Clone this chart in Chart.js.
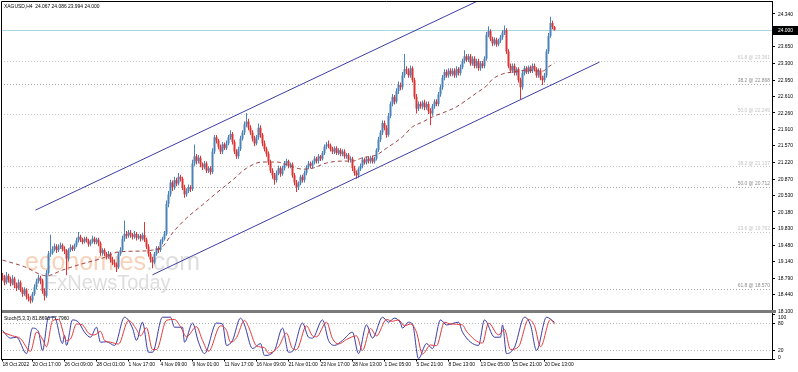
<!DOCTYPE html>
<html>
<head>
<meta charset="utf-8">
<script src="https://cdn.jsdelivr.net/npm/chart.js@4.4.0/dist/chart.umd.min.js"></script>
<style>
	html, body { margin: 0; padding: 0; background: #fff; }
	#wrap { position: relative; width: 798px; height: 372px; }
</style>
</head>
<body>
<div id="wrap"><canvas id="chart" width="798" height="372"></canvas></div>
<script>
// XAGUSD H4 candles (open = previous close)
const firstOpen = 18.84;
const closes = [
	18.80,18.70,18.84,18.76,18.68,18.78,18.64,18.58,18.70,18.56,
	18.46,18.54,18.40,18.36,18.32,18.46,18.60,18.72,18.80,18.74,
	18.52,18.42,18.90,19.30,19.32,19.40,19.46,19.38,19.44,19.48,
	19.40,19.36,19.20,19.38,19.44,19.40,19.48,19.58,19.66,19.60,
	19.55,19.62,19.58,19.50,19.56,19.62,19.55,19.60,19.52,19.32,
	19.38,19.30,19.24,19.30,19.18,19.12,19.08,19.02,19.30,19.38,
	19.62,19.72,19.68,19.75,19.70,19.66,19.72,19.64,19.68,19.62,
	19.70,19.60,19.45,19.30,19.18,19.12,19.30,19.42,19.38,19.55,
	19.62,19.72,20.35,20.55,20.80,20.70,20.85,20.78,20.92,20.88,
	20.70,20.55,20.62,20.70,20.66,21.20,21.35,21.25,21.32,21.18,
	21.12,21.20,21.05,21.10,21.02,21.45,21.75,21.68,21.55,21.45,
	21.60,21.52,21.62,21.75,21.82,21.65,21.45,21.35,21.50,21.72,
	21.85,22.02,22.08,21.95,21.85,21.72,21.62,21.75,21.95,21.80,
	21.62,21.50,21.40,21.22,21.05,20.95,20.85,21.00,21.10,20.98,
	21.10,21.20,21.25,21.15,21.18,20.95,20.80,20.70,20.78,20.92,
	20.85,21.00,21.12,21.20,21.15,21.22,21.30,21.25,21.35,21.30,
	21.42,21.55,21.60,21.58,21.50,21.45,21.52,21.42,21.48,21.40,
	21.45,21.35,21.38,21.28,21.30,21.10,21.00,20.95,21.08,21.15,
	21.28,21.22,21.30,21.25,21.32,21.24,21.30,21.48,21.70,21.85,
	22.05,21.95,21.80,22.20,22.45,22.60,22.50,22.72,22.85,22.80,
	23.05,23.18,23.15,23.05,23.20,22.95,22.60,22.35,22.45,22.40,
	22.48,22.38,22.45,22.30,22.25,22.40,22.50,22.45,22.65,22.80,
	23.00,23.12,23.05,23.15,23.08,23.15,23.05,23.18,23.10,23.22,
	23.35,23.45,23.38,23.45,23.30,23.40,23.25,23.35,23.20,23.30,
	23.25,23.40,23.90,23.98,23.82,23.72,23.80,23.70,23.78,23.85,
	23.95,24.00,23.55,23.25,23.15,23.25,23.10,23.18,22.95,22.80,
	23.10,23.20,23.12,23.22,23.15,23.25,23.18,23.05,23.15,23.00,
	22.95,23.05,23.55,23.88,24.15,24.067,24.00
];
const highs = [
	18.90,18.86,18.92,18.88,18.82,18.85,18.82,18.70,18.76,18.74,
	18.60,18.60,18.58,18.46,18.42,18.50,18.66,18.78,18.86,18.84,
	18.78,18.58,18.96,19.36,19.70,19.46,19.52,19.50,19.50,19.54,
	19.52,19.46,19.40,19.42,19.50,19.48,19.52,19.64,19.76,19.70,
	19.64,19.66,19.66,19.62,19.60,19.68,19.66,19.64,19.64,19.56,
	19.42,19.42,19.34,19.36,19.34,19.24,19.18,19.12,19.34,19.44,
	19.68,20.00,19.78,19.80,19.80,19.74,19.78,19.76,19.72,19.72,
	19.74,19.97,19.64,19.50,19.34,19.24,19.34,19.46,19.46,19.60,
	19.66,19.78,20.42,20.62,20.86,20.84,20.92,20.90,21.00,20.96,
	20.92,20.75,20.68,20.76,20.74,21.28,21.60,21.40,21.38,21.36,
	21.22,21.25,21.24,21.14,21.14,21.52,21.80,21.80,21.72,21.60,
	21.65,21.64,21.68,21.80,21.90,21.86,21.70,21.50,21.55,21.78,
	21.90,22.08,22.26,22.14,22.00,21.90,21.78,21.80,22.04,22.00,
	21.84,21.68,21.55,21.45,21.28,21.10,21.00,21.05,21.15,21.14,
	21.15,21.25,21.30,21.28,21.22,21.22,21.00,20.85,20.82,20.96,
	20.96,21.05,21.16,21.25,21.24,21.26,21.35,21.34,21.40,21.38,
	21.46,21.60,21.65,21.68,21.62,21.55,21.56,21.56,21.52,21.52,
	21.50,21.50,21.42,21.42,21.35,21.34,21.15,21.05,21.12,21.20,
	21.33,21.32,21.34,21.34,21.36,21.36,21.34,21.52,21.76,21.90,
	22.10,22.10,22.00,22.26,22.50,22.66,22.64,22.78,22.92,22.90,
	23.12,23.50,23.24,23.20,23.26,23.24,23.00,22.66,22.50,22.50,
	22.52,22.54,22.50,22.50,22.36,22.45,22.55,22.55,22.70,22.86,
	23.06,23.18,23.17,23.20,23.20,23.20,23.20,23.24,23.22,23.28,
	23.40,23.58,23.50,23.50,23.50,23.45,23.45,23.40,23.40,23.35,
	23.35,23.45,23.96,24.08,24.02,23.86,23.85,23.84,23.82,23.90,
	24.00,24.10,24.04,23.60,23.30,23.30,23.30,23.22,23.22,23.00,
	23.15,23.25,23.24,23.26,23.26,23.30,23.30,23.22,23.20,23.20,
	23.04,23.10,23.60,23.94,24.28,24.20,24.086
];
const lows = [
	18.74,18.64,18.66,18.70,18.62,18.64,18.58,18.52,18.54,18.50,
	18.40,18.42,18.34,18.30,18.26,18.28,18.42,18.55,18.68,18.66,
	18.46,18.32,18.38,18.86,19.24,19.28,19.35,19.32,19.34,19.40,
	19.35,19.30,18.85,19.14,19.34,19.36,19.36,19.44,19.54,19.55,
	19.50,19.52,19.54,19.45,19.46,19.52,19.50,19.50,19.46,19.26,
	19.26,19.25,19.18,19.20,19.12,19.06,19.02,18.92,18.98,19.26,
	19.34,19.56,19.62,19.64,19.64,19.60,19.62,19.58,19.60,19.56,
	19.58,19.55,19.40,19.24,19.12,19.00,19.08,19.26,19.32,19.34,
	19.50,19.58,19.68,20.28,20.50,20.62,20.65,20.72,20.74,20.82,
	20.64,20.48,20.50,20.58,20.60,20.62,21.14,21.18,21.20,21.12,
	21.06,21.08,21.00,21.00,20.96,20.98,21.40,21.62,21.50,21.40,
	21.40,21.48,21.48,21.58,21.70,21.60,21.40,21.30,21.30,21.46,
	21.68,21.80,21.96,21.90,21.80,21.66,21.56,21.58,21.70,21.74,
	21.56,21.45,21.34,21.16,21.00,20.88,20.75,20.80,20.95,20.92,
	20.94,21.05,21.15,21.10,21.10,20.90,20.74,20.60,20.64,20.74,
	20.80,20.80,20.95,21.08,21.10,21.10,21.18,21.20,21.20,21.25,
	21.26,21.38,21.50,21.52,21.45,21.40,21.40,21.38,21.38,21.35,
	21.35,21.30,21.30,21.22,21.22,21.04,20.94,20.88,20.90,21.04,
	21.10,21.18,21.18,21.20,21.20,21.20,21.20,21.26,21.44,21.65,
	21.80,21.90,21.74,21.76,22.15,22.40,22.44,22.46,22.66,22.74,
	22.75,23.00,23.08,23.00,23.00,22.90,22.55,22.25,22.30,22.35,
	22.34,22.32,22.33,22.24,22.00,22.20,22.35,22.40,22.40,22.60,
	22.75,22.95,23.00,23.00,23.03,23.03,23.00,23.00,23.05,23.05,
	23.18,23.30,23.33,23.33,23.25,23.25,23.20,23.20,23.15,23.15,
	23.20,23.20,23.36,23.85,23.77,23.66,23.68,23.65,23.66,23.73,
	23.80,23.90,23.50,23.20,23.10,23.10,23.05,23.05,22.90,22.55,
	22.75,23.05,23.08,23.08,23.10,23.10,23.13,23.00,23.00,22.95,
	22.85,22.90,23.00,23.50,23.84,24.02,23.994
];

// dashed moving average, sampled along its path
const maBars = [0,11,22,30,38,50,58,70,75,80,85,92,100,107,115,122,130,137,145,150,155,162,170,175,180,187,192,200,205,210,215,220,227,232,237,242,245,250,255,262,270,273,276];
const maValues = [19.17,19.03,18.84,18.96,19.07,19.21,19.34,19.36,19.38,19.45,19.74,20.05,20.33,20.58,20.85,21.10,21.23,21.23,21.13,21.08,21.10,21.21,21.25,21.25,21.32,21.38,21.52,21.76,21.97,22.07,22.18,22.26,22.39,22.53,22.68,22.83,22.97,23.08,23.12,23.16,23.14,23.23,23.31];

// Stochastic(5,3,3) turning points
const kBars = [0,4,7,12,15,18,20,23,26,30,31,32,35,38,41,44,47,49,52,56,61,65,67,70,73,75,80,84,86,90,91,95,98,101,107,110,112,115,119,121,125,129,131,136,140,143,145,150,153,155,160,163,166,170,175,178,182,185,190,193,196,199,200,203,205,208,212,215,219,222,228,230,238,241,246,249,250,252,256,261,264,267,272,276];
const kValues = [64,47,49,13,69,61,20,93,93,35,53,31,87,82,60,49,71,38,39,31,93,69,42,82,16,16,93,93,71,71,38,80,38,13,80,78,31,42,91,76,24,35,9,20,69,16,18,80,49,47,87,42,31,42,60,13,76,47,93,82,91,80,69,82,78,2,35,24,87,76,82,60,31,87,49,49,76,13,27,93,76,20,93,81.87];
const dBars = [0,5,9,14,17,20,22,25,28,32,34,37,40,43,46,49,51,54,58,63,67,69,72,75,77,82,86,89,92,97,100,103,109,112,114,117,121,123,127,131,133,138,142,145,147,152,155,157,162,165,168,172,177,180,184,187,192,195,198,201,204,207,210,214,217,221,224,230,232,240,243,248,251,254,258,263,266,269,274,276];
const dValues = [60,52,46,18,60,45,28,85,88,42,45,78,76,58,54,62,42,38,34,86,66,52,70,22,22,86,88,72,50,72,42,18,74,64,38,48,86,72,30,26,14,28,58,24,22,74,52,50,82,46,34,44,52,20,68,52,88,84,87,74,78,60,12,32,30,82,78,76,62,36,80,54,66,22,28,88,74,28,88,77.8];

// channel lines: [bar, price] end points
const upperChannel = [[16.5, 20.22], [249.5, 24.85]];
const lowerChannel = [[75, 18.86], [298.5, 23.33]];

// fibonacci levels
const fibLevels = [23.361, 22.868, 22.249, 21.137, 20.712, 19.763, 18.570];
const fibLabels = ['61.8 @ 23.361', '38.2 @ 22.868', '50.0 @ 22.249', '38.2 @ 21.137', '50.0 @ 20.712', '23.6 @ 19.763', '61.8 @ 18.570'];
const fibStrong = [false, true, false, false, true, false, true];

const bidPrice = 24.000;
const priceTicks = [24.34,24.00,23.65,23.30,22.95,22.61,22.26,21.91,21.57,21.22,20.87,20.53,20.18,19.83,19.48,19.14,18.79,18.44,18.10];
const stochTicks = [0, 20, 80, 100];
const dateTickBars = [0,15,31,47,63,79,95,111,127,143,159,175,191,207,223,239,255,271];
const dateTickLabels = ['18 Oct 2022','20 Oct 17:00','26 Oct 09:00','28 Oct 01:00','1 Nov 17:00','4 Nov 09:00','9 Nov 01:00','11 Nov 17:00','16 Nov 09:00','21 Nov 01:00','23 Nov 17:00','28 Nov 13:00','1 Dec 05:00','5 Dec 21:00','8 Dec 13:00','13 Dec 05:00','15 Dec 21:00','20 Dec 13:00'];

const UP = '#4a83b8';
const DOWN = '#dd3333';
const FONT = '6px "Liberation Sans"';
const SQUEEZE = 0.82; // terminal font is narrow

const opens = closes.map((c, i) => (i === 0 ? firstOpen : closes[i - 1]));
const barColors = closes.map((c, i) => (c >= opens[i] ? UP : DOWN));

const wickData = closes.map((c, i) => ({ x: i, y: [lows[i], highs[i]] }));
const bodyData = closes.map((c, i) => ({ x: i, y: [opens[i], c] }));
const toPoints = (bars, vals) => bars.map((b, k) => ({ x: b, y: vals[k] }));

// narrow text helper
const label = function (ctx, text, x, y, align) {
	ctx.save();
	ctx.font = FONT;
	ctx.textBaseline = 'middle';
	const w = ctx.measureText(text).width * SQUEEZE;
	const left = align === 'right' ? x - w : x;
	ctx.translate(left, y);
	ctx.scale(SQUEEZE, 1);
	ctx.textAlign = 'left';
	ctx.fillText(text, 0, 0);
	ctx.restore();
};

const overlay = {
	id: 'overlay',
	beforeDatasetsDraw(chart) {
		const { ctx, scales: { x, y, ys } } = chart;
		ctx.save();
		// watermark
		ctx.globalAlpha = 0.5;
		ctx.textBaseline = 'alphabetic';
		ctx.font = '25px "Liberation Sans"';
		ctx.fillStyle = '#f3a373';
		ctx.fillText('economies', 25, 270);
		const w = ctx.measureText('economies').width;
		ctx.fillStyle = '#bdbdbd';
		ctx.fillText('.com', 25 + w, 270);
		ctx.font = '20px "Liberation Sans"';
		ctx.fillText('FxNewsToday', 45, 289);
		ctx.globalAlpha = 1;

		// fibonacci dotted levels
		ctx.lineWidth = 1;
		ctx.setLineDash([1, 2]);
		fibLevels.forEach((v, k) => {
			const py = Math.round(y.getPixelForValue(v)) + 0.5;
			ctx.strokeStyle = fibStrong[k] ? '#a8a8a8' : '#c8c8c8';
			ctx.beginPath();
			ctx.moveTo(x.left, py);
			ctx.lineTo(x.right, py);
			ctx.stroke();
		});
		// stochastic 80 / 20
		ctx.strokeStyle = '#b4b4b4';
		[20, 80].forEach(v => {
			const py = Math.round(ys.getPixelForValue(v)) + 0.5;
			ctx.beginPath();
			ctx.moveTo(x.left, py);
			ctx.lineTo(x.right, py);
			ctx.stroke();
		});
		ctx.setLineDash([]);
		// bid line
		const by = Math.round(y.getPixelForValue(bidPrice)) + 0.5;
		ctx.strokeStyle = '#a9d6e0';
		ctx.beginPath();
		ctx.moveTo(x.left, by);
		ctx.lineTo(x.right, by);
		ctx.stroke();
		ctx.restore();
	},
	afterDraw(chart) {
		const { ctx, chartArea: a, scales: { x, y, ys } } = chart;
		ctx.save();
		// fib labels
		fibLevels.forEach((v, k) => {
			ctx.fillStyle = fibStrong[k] ? '#8c8c8c' : '#c4c4c4';
			label(ctx, fibLabels[k], x.right - 2, y.getPixelForValue(v) - 3.5, 'right');
		});
		// panel separator
		ctx.fillStyle = '#7a7a7a';
		ctx.fillRect(a.left, y.bottom - 1, x.right - a.left + 4, 3);
		// frame
		ctx.strokeStyle = '#000';
		ctx.lineWidth = 1;
		ctx.beginPath();
		ctx.moveTo(a.left + 0.5, a.bottom);
		ctx.lineTo(a.left + 0.5, a.top + 0.5);
		ctx.lineTo(x.right, a.top + 0.5);
		ctx.stroke();

		ctx.fillStyle = '#000';
		// axis labels, placed by the scales
		y.ticks.forEach(t => {
			const py = Math.min(Math.max(y.getPixelForValue(t.value), y.top + 4), y.bottom + 1);
			label(ctx, t.value.toFixed(3), x.right + 6, py, 'left');
		});
		ys.ticks.forEach(t => {
			const py = Math.min(Math.max(ys.getPixelForValue(t.value), ys.top + 6), ys.bottom - 2);
			label(ctx, String(t.value), x.right + 6, py, 'left');
		});
		x.ticks.forEach((t, i) => {
			label(ctx, dateTickLabels[i], Math.max(x.getPixelForValue(t.value), a.left + 1), x.top + 5, 'left');
		});
		// titles
		label(ctx, 'XAGUSD,H4  24.067 24.086 23.994 24.000', 4, 6, 'left');
		label(ctx, 'Stoch(5,3,3) 81.8696 77.7960', 4, ys.top + 7, 'left');
		// current price box
		const by = y.getPixelForValue(bidPrice);
		ctx.fillStyle = '#000';
		ctx.fillRect(x.right + 1, Math.round(by) - 4, 25, 9);
		ctx.fillStyle = '#fff';
		label(ctx, bidPrice.toFixed(3), x.right + 6, by + 0.5, 'left');
		ctx.restore();
	}
};

const hiddenTicks = { display: false, autoSkip: false };

new Chart(document.getElementById('chart'), {
	type: 'bar',
	data: {
		datasets: [
			{
				type: 'line', data: toPoints(maBars, maValues), yAxisID: 'y',
				borderColor: '#9e4444', borderWidth: 1, borderDash: [4, 3],
				pointRadius: 0, cubicInterpolationMode: 'monotone', order: 1,
			},
			{
				type: 'line', data: upperChannel.map(p => ({ x: p[0], y: p[1] })), yAxisID: 'y',
				borderColor: '#3d3da8', borderWidth: 1, pointRadius: 0, order: 1,
			},
			{
				type: 'line', data: lowerChannel.map(p => ({ x: p[0], y: p[1] })), yAxisID: 'y',
				borderColor: '#3d3da8', borderWidth: 1, pointRadius: 0, order: 1,
			},
			{
				data: wickData, yAxisID: 'y', backgroundColor: barColors,
				barThickness: 1, grouped: false, borderWidth: 0, inflateAmount: 0, order: 3,
			},
			{
				data: bodyData, yAxisID: 'y', backgroundColor: barColors,
				barThickness: 2, grouped: false, borderWidth: 0, inflateAmount: 0, order: 2,
			},
			{
				type: 'line', data: toPoints(kBars, kValues), yAxisID: 'ys',
				borderColor: '#3a3aa8', borderWidth: 1, pointRadius: 0,
				cubicInterpolationMode: 'monotone', order: 1,
			},
			{
				type: 'line', data: toPoints(dBars, dValues), yAxisID: 'ys',
				borderColor: '#e23a3a', borderWidth: 1, pointRadius: 0,
				cubicInterpolationMode: 'monotone', order: 0,
			},
		],
	},
	options: {
		responsive: false,
		animation: false,
		events: [],
		layout: { padding: { top: 1, left: 1, right: 0, bottom: 0 } },
		plugins: { legend: { display: false }, tooltip: { enabled: false } },
		scales: {
			x: {
				type: 'linear', min: -0.75, max: 384.75, offset: false,
				grid: { display: true, drawOnChartArea: false, offset: false, tickLength: 2, color: '#000' },
				border: { color: '#000' },
				afterBuildTicks: s => { s.ticks = dateTickBars.map(v => ({ value: v })); },
				afterFit: s => { s.height = 12.5; },
				ticks: hiddenTicks,
			},
			y: {
				type: 'linear', position: 'right', stack: 'panes', stackWeight: 310,
				min: 18.10, max: 24.613, beginAtZero: false,
				grid: { drawOnChartArea: false, tickLength: 3, color: '#000' },
				border: { color: '#000' },
				afterBuildTicks: s => { s.ticks = priceTicks.map(v => ({ value: v })); },
				afterFit: s => { s.width = 26; },
				ticks: hiddenTicks,
			},
			ys: {
				type: 'linear', position: 'right', stack: 'panes', stackWeight: 48.5,
				min: 0, max: 106.6, beginAtZero: false,
				grid: { drawOnChartArea: false, tickLength: 3, color: '#000' },
				border: { color: '#000' },
				afterBuildTicks: s => { s.ticks = stochTicks.map(v => ({ value: v })); },
				afterFit: s => { s.width = 26; },
				ticks: hiddenTicks,
			},
		},
	},
	plugins: [overlay],
});
</script>
</body>
</html>
